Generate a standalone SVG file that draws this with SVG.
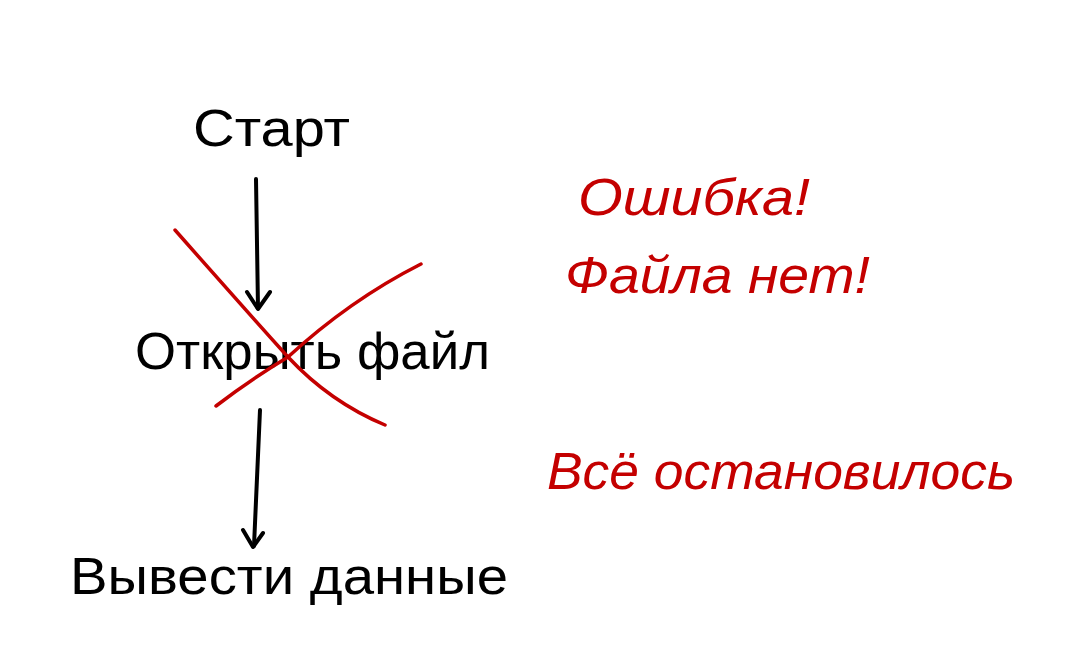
<svg xmlns="http://www.w3.org/2000/svg" width="1080" height="663" viewBox="0 0 1080 663">
<defs>
<style>
.blk{font-family:"Liberation Sans","DejaVu Sans",sans-serif;fill:#000;font-size:52px}
.red{font-family:"Liberation Sans","DejaVu Sans",sans-serif;fill:#c40000;font-size:52px;font-style:italic}
.ln{fill:none;stroke:#000;stroke-width:4;stroke-linecap:round;stroke-linejoin:round}
.rx{fill:none;stroke:#c40000;stroke-width:3.5;stroke-linecap:round}
</style>
</defs>
<rect width="1080" height="663" fill="#fff"/>
<g id="start"><text class="blk" x="193" y="146" textLength="157" lengthAdjust="spacingAndGlyphs">Старт</text></g>
<g id="open"><text class="blk" x="135" y="369" textLength="355" lengthAdjust="spacingAndGlyphs">Открыть файл</text></g>
<g id="output"><text class="blk" x="70" y="594" textLength="438" lengthAdjust="spacingAndGlyphs">Вывести данные</text></g>
<g id="error"><text class="red" x="578" y="215" textLength="232" lengthAdjust="spacingAndGlyphs">Ошибка!</text>
<text class="red" x="565" y="293" textLength="305" lengthAdjust="spacingAndGlyphs">Файла нет!</text></g>
<g id="stopped"><text class="red" x="547" y="489" textLength="468" lengthAdjust="spacingAndGlyphs">Всё остановилось</text></g>
<g id="connectors">
<path class="ln" d="M256 179 Q257 240 258 308"/>
<path class="ln" d="M247 292 L258 309 L270 292"/>
<path class="ln" d="M260 410 Q257 480 254 546"/>
<path class="ln" d="M243 530 L253 547 L263 533"/>
</g>
<g id="cross">
<path class="rx" d="M175 230 Q235 298 288 357 Q330 402 385 425"/>
<path class="rx" d="M216 406 Q250 380 288 357 Q350 300 421 264"/>
</g>
</svg>
